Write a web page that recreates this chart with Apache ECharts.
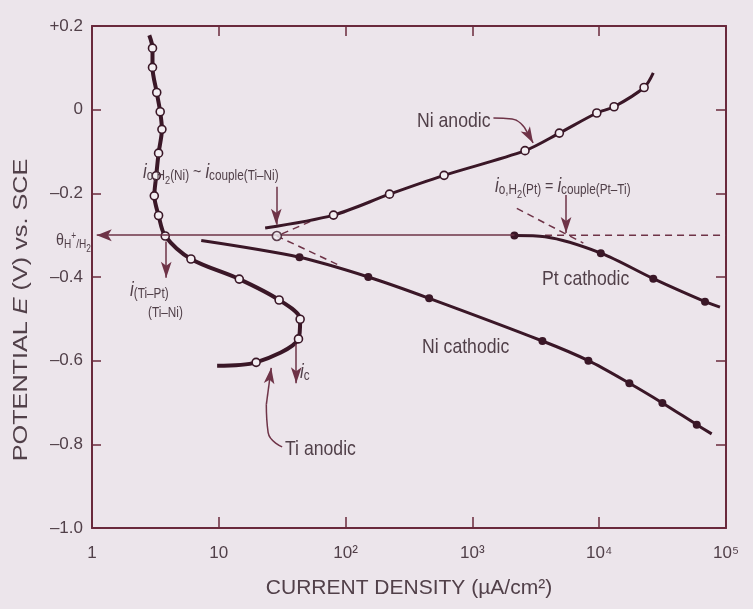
<!DOCTYPE html>
<html><head><meta charset="utf-8">
<script src="https://cdn.jsdelivr.net/npm/echarts@6/dist/echarts.min.js"></script>
<style>html,body{margin:0;padding:0;background:#ece5eb;}#c{width:753px;height:609px;}</style>
</head><body><div id="c"></div>
<script>
// ---- axis ticks ----
const xTickValues = [1, 10, 100, 1000, 10000, 100000];
const xTickLabels = ['1', '10', '10²', '10³', '10⁴', '10⁵'];
const yTickValues = [-1.0, -0.8, -0.6, -0.4, -0.2, 0, 0.2];
const yTickLabels = ['–1.0', '–0.8', '–0.6', '–0.4', '–0.2', '0', '+0.2'];

// ---- Ti anodic (open circles) ----
const tiAnodicX = [2.83, 3.00, 3.00, 3.24, 3.45, 3.56, 3.35, 3.21, 3.10, 3.35, 3.78, 6.03, 14.5, 29.9, 43.8, 42.5, 19.7, 9.7];
const tiAnodicY = [0.178, 0.147, 0.101, 0.041, -0.005, -0.047, -0.104, -0.158, -0.206, -0.253, -0.302, -0.357, -0.405, -0.455, -0.501, -0.548, -0.604, -0.612];
const tiAnodicMarked = [0, 1, 1, 1, 1, 1, 1, 1, 1, 1, 1, 1, 1, 1, 1, 1, 1, 0];

// ---- Ni anodic (open circles) ----
const niAnodicX = [23.2, 80.3, 222, 598, 2600, 4850, 9570, 13100, 22600, 26700];
const niAnodicY = [-0.283, -0.252, -0.202, -0.157, -0.098, -0.056, -0.008, 0.007, 0.053, 0.088];
const niAnodicMarked = [0, 1, 1, 1, 1, 1, 1, 1, 1, 0];

// ---- Ni cathodic (filled) ----
const niCathodicX = [7.27, 43.3, 151, 456, 3566, 8220, 17300, 31500, 58800, 77100];
const niCathodicY = [-0.313, -0.353, -0.400, -0.451, -0.553, -0.600, -0.654, -0.701, -0.753, -0.775];
const niCathodicMarked = [0, 1, 1, 1, 1, 1, 1, 1, 1, 0];

// ---- Pt cathodic (filled) ----
const ptCathodicX = [2144, 3740, 10300, 26700, 68300, 89600];
const ptCathodicY = [-0.301, -0.304, -0.343, -0.404, -0.459, -0.472];
const ptCathodicMarked = [1, 0, 1, 1, 1, 0];

// ---- couple point Ti-Ni ----
const coupleX = [28.7];
const coupleY = [-0.302];

// ---- equilibrium potential ----
const eqPotential = -0.30;
const eqSolidX = [1.09, 2144];
const eqDashX = [3740, 100000];

// ---- Tafel extrapolations (dashed) ----
const dashNiX = [52.6, 28.7, 90.6];
const dashNiY = [-0.2675, -0.302, -0.373];
const dashPtX = [2240, 7500];
const dashPtY = [-0.236, -0.319];

// ---- straight annotation arrows: [x1, y1, x2, y2] ----
const arrowSegs = [
  [3.85, -0.315, 3.85, -0.402],
  [40.8, -0.560, 40.8, -0.654],
  [28.4, -0.184, 28.4, -0.275],
  [5480, -0.204, 5480, -0.295]
];
// ---- curved label leaders (last point = arrow tip) ----
const niLeaderX = [1465, 2056, 2557, 3013];
const niLeaderY = [-0.0198, -0.0222, -0.0413, -0.0795];
const tiLeaderX = [31.6, 24.5, 23.7, 25.9];
const tiLeaderY = [-0.806, -0.772, -0.705, -0.617];

const FONT = "'Liberation Sans',Arial,sans-serif";
const SX = 0.84;
const axisColor = '#6a2a3d';
const lineDark = '#3a1727';
const thin = '#6e3347';
const textColor = '#514049';
const bg = '#ece5eb';

function curve(name, xs, ys, marked, open, width, size) {
  return {
    type: 'line', name, smooth: 0.3, z: 4, silent: true,
    data: xs.map((x, i) => ({ value: [x, ys[i]], symbol: marked[i] ? 'circle' : 'none' })),
    symbolSize: size, showSymbol: true,
    lineStyle: { color: lineDark, width },
    itemStyle: open ? { color: '#f3eef2', borderColor: lineDark, borderWidth: 1.6 }
                    : { color: lineDark, borderWidth: 0 },
    emphasis: { disabled: true }
  };
}
function dashed(xs, ys) {
  return {
    type: 'line', z: 2, silent: true, showSymbol: false, symbol: 'none',
    data: xs.map((x, i) => [x, ys[i]]),
    lineStyle: { color: thin, width: 1.5, type: [7, 5] },
    emphasis: { disabled: true }
  };
}
function leaderLine(xs, ys) {
  // smooth body of the leader (up to the point before the tip)
  return {
    type: 'line', z: 2, silent: true, showSymbol: false, symbol: 'none', smooth: 0.5,
    data: xs.slice(0, -1).map((x, i) => [x, ys[i]]),
    lineStyle: { color: thin, width: 1.5 },
    emphasis: { disabled: true }
  };
}
const leaderHead = (xs, ys) => { const n = xs.length; return [xs[n - 2], ys[n - 2], xs[n - 1], ys[n - 1]]; };

const chart = echarts.init(document.getElementById('c'), null, { renderer: 'canvas' });

const yLookup = v => { const i = yTickValues.findIndex(t => Math.abs(t - v) < 1e-6); return i >= 0 ? yTickLabels[i] : ''; };
const xLookup = v => { const i = xTickValues.findIndex(t => Math.abs(Math.log10(t) - Math.log10(v)) < 1e-6); return i >= 0 ? xTickLabels[i] : ''; };

const richAnno = {
  i: { fontSize: 20, fontStyle: 'italic', fontFamily: FONT, fill: textColor },
  s: { fontSize: 14, fontFamily: FONT, fill: textColor, padding: [9, 0, 0, 0] },
  s2: { fontSize: 11, fontFamily: FONT, fill: textColor, padding: [18, 0, 0, 0] },
  sup: { fontSize: 10, fontFamily: FONT, fill: textColor, padding: [0, 0, 8, 0] },
  n: { fontSize: 17, fontFamily: FONT, fill: textColor },
  t: { fontSize: 17, fontFamily: FONT, fill: textColor },
  ts: { fontSize: 12, fontFamily: FONT, fill: textColor, padding: [9, 0, 0, 0] },
  ts2: { fontSize: 10, fontFamily: FONT, fill: textColor, padding: [18, 0, 0, 0] }
};
function label(x, y, text, size) {
  return {
    type: 'text', x, y, scaleX: SX, silent: true, z: 10,
    style: { text, fill: textColor, fontSize: size, fontFamily: FONT, verticalAlign: 'middle', align: 'left', rich: richAnno }
  };
}

const axisLineStyle = { color: axisColor, width: 2 };
const tickStyle = { color: axisColor, width: 1.5 };

const allArrows = arrowSegs.concat([leaderHead(niLeaderX, niLeaderY), leaderHead(tiLeaderX, tiLeaderY)]);
const arrowItems = allArrows.map(s => [{ coord: [s[0], s[1]] }, { coord: [s[2], s[3]], symbolSize: [8, 16] }]);
arrowItems.push([{ coord: [eqSolidX[1], eqPotential] }, { coord: [eqSolidX[0], eqPotential], symbolSize: [9, 15] }]);

const option = {
  backgroundColor: bg,
  animation: false,
  grid: { left: 92, top: 26, right: 27, bottom: 81, containLabel: false },
  xAxis: [
    {
      type: 'log', logBase: 10, min: 1, max: 100000, position: 'bottom',
      axisLine: { onZero: false, lineStyle: axisLineStyle },
      axisTick: { inside: true, length: 11, lineStyle: tickStyle },
      axisLabel: { formatter: xLookup, fontSize: 17, color: textColor, fontFamily: FONT, margin: 17 },
      splitLine: { show: false }, minorTick: { show: false },
      name: 'CURRENT DENSITY (µA/cm²)', nameLocation: 'middle', nameGap: 50,
      nameTextStyle: { fontSize: 21, color: textColor, fontFamily: FONT }
    },
    {
      type: 'log', logBase: 10, min: 1, max: 100000, position: 'top',
      axisLine: { onZero: false, lineStyle: axisLineStyle },
      axisTick: { inside: true, length: 10, lineStyle: tickStyle },
      axisLabel: { show: false }, splitLine: { show: false }
    }
  ],
  yAxis: [
    {
      type: 'value', min: -1.0, max: 0.2, interval: 0.2, position: 'left',
      axisLine: { show: true, onZero: false, lineStyle: axisLineStyle },
      axisTick: { show: true, inside: true, length: 9, lineStyle: tickStyle },
      axisLabel: { formatter: yLookup, fontSize: 17, color: textColor, fontFamily: FONT, margin: 9 },
      splitLine: { show: false }
    },
    {
      type: 'value', min: -1.0, max: 0.2, interval: 0.2, position: 'right',
      axisLine: { show: true, onZero: false, lineStyle: axisLineStyle },
      axisTick: { show: true, inside: true, length: 10, lineStyle: tickStyle },
      axisLabel: { show: false }, splitLine: { show: false }
    }
  ],
  series: [
    dashed(dashNiX, dashNiY),
    dashed(dashPtX, dashPtY),
    dashed(eqDashX, eqDashX.map(() => eqPotential)),
    leaderLine(niLeaderX, niLeaderY),
    leaderLine(tiLeaderX, tiLeaderY),
    {
      type: 'line', z: 2, silent: true, data: [],
      markLine: {
        silent: true, animation: false,
        symbol: ['none', 'arrow'], symbolSize: 14,
        label: { show: false },
        lineStyle: { color: thin, width: 1.5, type: 'solid' },
        emphasis: { disabled: true },
        data: arrowItems
      }
    },
    curve('Ti anodic', tiAnodicX, tiAnodicY, tiAnodicMarked, true, 4, 8),
    curve('Ni anodic', niAnodicX, niAnodicY, niAnodicMarked, true, 3, 8),
    curve('Ni cathodic', niCathodicX, niCathodicY, niCathodicMarked, false, 3, 8),
    curve('Pt cathodic', ptCathodicX, ptCathodicY, ptCathodicMarked, false, 3, 8),
    {
      type: 'scatter', z: 5, silent: true, symbol: 'circle', symbolSize: 9,
      data: coupleX.map((x, i) => [x, coupleY[i]]),
      itemStyle: { color: '#f3eef2', borderColor: lineDark, borderWidth: 1.6 }
    }
  ],
  graphic: [
    label(417, 121, 'Ni anodic', 21),
    label(542, 279, 'Pt cathodic', 21),
    label(422, 347, 'Ni cathodic', 21),
    label(285, 449, 'Ti anodic', 21),
    label(143, 172, '{i|i}{s|o,H}{s2|2}{s|(Ni)}{n| ~ }{i|i}{s|couple(Ti–Ni)}', 16),
    label(495, 186, '{i|i}{s|o,H}{s2|2}{s|(Pt)}{n| = }{i|i}{s|couple(Pt–Ti)}', 16),
    label(130, 290, '{i|i}{s|(Ti–Pt)}', 16),
    label(148, 313, '(Ti–Ni)', 14),
    label(300, 372, '{i|i}{s|c}', 16),
    label(56, 240, '{t|θ}{ts|H}{sup|+}{ts|/H}{ts2|2}', 16),
    {
      type: 'text', x: 21, y: 310, rotation: Math.PI / 2, scaleX: 1.2, silent: true,
      style: {
        text: 'POTENTIAL {it|E} (V) vs. SCE', fill: textColor, fontSize: 21, fontFamily: FONT,
        align: 'center', verticalAlign: 'middle',
        rich: { it: { fontSize: 21, fontStyle: 'italic', fontFamily: FONT, fill: textColor } }
      }
    }
  ]
};
chart.setOption(option);
</script>
</body></html>
